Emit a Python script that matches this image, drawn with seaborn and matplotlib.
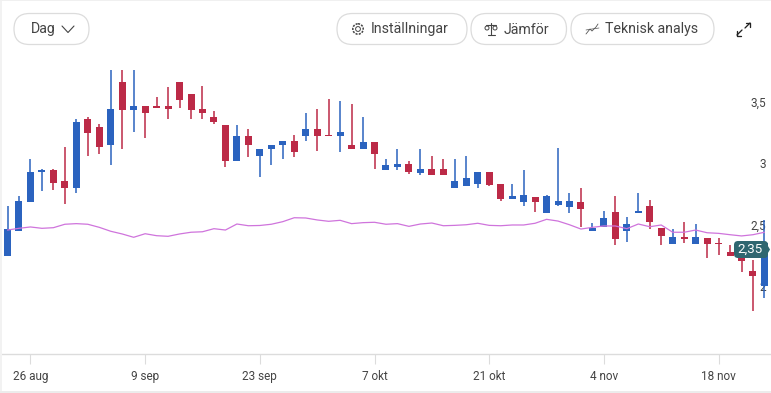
import matplotlib
matplotlib.use("Agg")
import matplotlib.pyplot as plt
from matplotlib.patches import FancyBboxPatch, Circle, Rectangle
import numpy as np
import pandas as pd
import seaborn as sns

highs = [2.65, 2.73, 3.03, 2.95, 2.95, 3.13, 3.36, 3.37, 3.32, 3.76, 3.76, 3.76, 3.46, 3.54, 3.62, 3.66, 3.56,
         3.63, 3.42, 3.31, 3.31, 3.28, 3.11, 3.15, 3.18, 3.23, 3.41, 3.44, 3.52, 3.50, 3.48, 3.37, 3.17, 3.03,
         3.11, 3.02, 3.11, 3.06, 3.03, 3.03, 3.06, 2.93, 2.93, 2.83, 2.83, 2.94, 2.72, 2.74, 3.12, 2.76, 2.80,
         2.51, 2.61, 2.73, 2.56, 2.76, 2.70, 2.47, 2.46, 2.52, 2.50, 2.39, 2.39, 2.33, 2.24, 2.21, 2.54]
lows = [2.24, 2.45, 2.68, 2.77, 2.78, 2.67, 2.76, 3.06, 3.07, 2.98, 3.11, 3.25, 3.20, 3.45, 3.36, 3.45, 3.36,
        3.36, 3.32, 2.97, 3.02, 3.05, 2.89, 2.98, 3.03, 3.05, 3.18, 3.10, 3.22, 3.09, 3.11, 3.11, 2.95, 2.94,
        2.94, 2.91, 2.90, 2.90, 2.90, 2.80, 2.81, 2.80, 2.81, 2.69, 2.71, 2.65, 2.60, 2.59, 2.65, 2.59, 2.48,
        2.45, 2.48, 2.33, 2.36, 2.59, 2.46, 2.33, 2.34, 2.35, 2.34, 2.23, 2.25, 2.24, 2.11, 1.80, 1.90]
opens = [2.24, 2.45, 2.68, 2.93, 2.94, 2.85, 2.80, 3.36, 3.29, 3.15, 3.66, 3.43, 3.46, 3.46, 3.46, 3.66, 3.56,
         3.44, 3.37, 3.31, 3.02, 3.22, 3.06, 3.11, 3.15, 3.18, 3.22, 3.28, 3.23, 3.22, 3.15, 3.11, 3.17, 2.94,
         2.97, 2.99, 2.92, 2.95, 2.95, 2.80, 2.81, 2.83, 2.93, 2.83, 2.71, 2.68, 2.72, 2.59, 2.66, 2.64, 2.68,
         2.45, 2.48, 2.60, 2.45, 2.59, 2.65, 2.47, 2.34, 2.40, 2.34, 2.39, 2.35, 2.28, 2.24, 2.12, 2.00]
closes = [2.46, 2.69, 2.93, 2.94, 2.84, 2.80, 3.33, 3.24, 3.13, 3.44, 3.43, 3.46, 3.41, 3.45, 3.44, 3.51, 3.43,
          3.41, 3.33, 3.02, 3.22, 3.15, 3.11, 3.15, 3.18, 3.09, 3.28, 3.22, 3.22, 3.25, 3.11, 3.17, 3.07, 2.98,
          2.99, 2.93, 2.95, 2.90, 2.90, 2.85, 2.88, 2.93, 2.82, 2.71, 2.73, 2.74, 2.68, 2.73, 2.69, 2.69, 2.63,
          2.47, 2.55, 2.38, 2.50, 2.61, 2.52, 2.41, 2.40, 2.38, 2.40, 2.34, 2.34, 2.24, 2.20, 2.08, 2.35]
avg_line = [2.455, 2.469, 2.480, 2.469, 2.474, 2.502, 2.507, 2.502, 2.477, 2.445, 2.423, 2.396, 2.425, 2.409,
            2.404, 2.423, 2.437, 2.441, 2.466, 2.455, 2.504, 2.490, 2.492, 2.502, 2.523, 2.555, 2.553, 2.537,
            2.526, 2.534, 2.507, 2.515, 2.518, 2.502, 2.507, 2.485, 2.504, 2.512, 2.490, 2.493, 2.498, 2.510,
            2.493, 2.490, 2.496, 2.496, 2.510, 2.542, 2.528, 2.498, 2.463, 2.477, 2.488, 2.488, 2.466, 2.504,
            2.482, 2.496, 2.437, 2.437, 2.455, 2.433, 2.428, 2.417, 2.407, 2.417, 2.437]

date_ticks = [2, 12, 22, 32, 42, 52, 62]
date_labels = ["26 aug", "9 sep", "23 sep", "7 okt", "21 okt", "4 nov", "18 nov"]
price_ticks = [2, 2.5, 3, 3.5]
price_labels = ["2", "2,5", "3", "3,5"]
last_label = "2,35"

BLUE = "#2b63bf"
RED = "#bc2a47"
PURPLE = "#cf74dc"
TEXT = "#444444"
BORDER = "#dcdcdc"

sns.set_theme(style="white")
plt.rcParams['font.family'] = ['Roboto', 'DejaVu Sans']

W, H = 771, 393
fig = plt.figure(figsize=(W / 100, H / 100), dpi=100, facecolor="white")

# main chart area, y 55..354 px
ax = fig.add_axes([2 / W, 1 - 354 / H, (W - 2) / W, (354 - 55) / H])

df = pd.DataFrame({"i": range(len(opens)), "open": opens, "close": closes,
                   "high": highs, "low": lows, "avg": avg_line})
df["color"] = np.where(df["close"] >= df["open"], BLUE, RED)
df["bottom"] = df[["open", "close"]].min(axis=1)
df["height"] = (df["close"] - df["open"]).abs()

ax.vlines(df["i"], df["low"], df["high"], colors=df["color"], linewidth=1.1, zorder=2)
ax.bar(df["i"], df["height"], bottom=df["bottom"], width=0.61, color=df["color"], linewidth=0, zorder=3)
sns.lineplot(data=df, x="i", y="avg", ax=ax, color=PURPLE, linewidth=0.9, zorder=4)

ax.set_xlim(-0.48, 66.57)
ax.set_ylim(2 - 68 / 123, 2 + 231 / 123)
ax.set_xlabel("")
ax.set_ylabel("")
ax.patch.set_alpha(0)
for s in ["top", "left", "right"]:
    ax.spines[s].set_visible(False)
ax.spines["bottom"].set_color(BORDER)
ax.spines["bottom"].set_linewidth(1.0)

ax.set_xticks(date_ticks)
ax.set_xticklabels(date_labels, fontsize=8.5, color=TEXT)
ax.tick_params(axis="x", bottom=True, length=7.2, width=0.8, color=BORDER, pad=4.5)
ax.yaxis.tick_right()
ax.set_yticks(price_ticks)
ax.set_yticklabels(price_labels, fontsize=8.5, color=TEXT, ha="right")
ax.tick_params(axis="y", length=0, pad=-3.5)

# toolbar, price tag and page edges in pixel coordinates
ov = fig.add_axes([0, 0, 1, 1], zorder=10)
ov.set_xlim(0, W)
ov.set_ylim(H, 0)
ov.axis("off")

ov.add_patch(Rectangle((0, 0), 2, H, color="#f2f2f2", lw=0))
ov.add_patch(Rectangle((0, 0), W, 1, color="#f0f0f0", lw=0))
ov.add_patch(Rectangle((0, 391), W, 2, color="#ececec", lw=0))

buttons = [(14, 89), (337, 467), (471, 566.5), (571, 714)]
for x0, x1 in buttons:
    ov.add_patch(FancyBboxPatch((x0, 13.5), x1 - x0, 31, boxstyle="round,pad=0,rounding_size=15.5",
                                fc="white", ec=BORDER, lw=0.9))

btn_font = dict(fontsize=10.2, color=TEXT, va="center", ha="left")
ov.text(31, 29.5, "Dag", **btn_font)
ov.text(371, 29.5, "Inställningar", **btn_font)
ov.text(504, 29.5, "Jämför", **btn_font)
ov.text(605, 29.5, "Teknisk analys", **btn_font)

icon = dict(color="#444444", lw=0.8, solid_capstyle="round")
# chevron
ov.plot([62, 68, 74], [26, 32.5, 26], **icon)
# gear
ov.add_patch(Circle((358, 29), 2.4, fc="none", ec="#444444", lw=0.7))
ov.add_patch(Circle((358, 29), 5.2, fc="none", ec="#444444", lw=1.1, ls=(0, (1.4, 0.8))))
# scales
ov.plot([491, 491], [23, 35], **icon)
ov.plot([487.5, 494.5], [35, 35], **icon)
ov.plot([486, 496], [24.5, 24.5], **icon)
ov.add_patch(Circle((487, 28), 2, fc="none", ec="#444444", lw=0.7))
ov.add_patch(Circle((495, 28), 2, fc="none", ec="#444444", lw=0.7))
# trend lines
ov.plot([586, 590, 592, 596, 598], [34, 29, 31, 27, 24], color="#555555", lw=0.6)
ov.plot([586, 592, 599], [30, 29, 28], color="#555555", lw=0.5)
# expand arrows
exp = dict(color="#222222", lw=0.95, solid_capstyle="round")
ov.plot([737, 742], [35, 30], **exp)
ov.plot([737, 737, 741], [31, 35.5, 35.5], **exp)
ov.plot([745, 750], [28, 23], **exp)
ov.plot([746, 750, 750], [23, 23, 27], **exp)

# last price tag
ov.fill([760, 765, 770, 765, 760], [241, 241, 249.5, 258, 258], fc="#2f6670", ec="none")
ov.add_patch(FancyBboxPatch((738, 245), 26, 9, boxstyle="round,pad=4", fc="#2f6670", ec="none"))
ov.text(749.5, 249.5, last_label, fontsize=9.6, color="white", va="center", ha="center")

fig.savefig("out.png", dpi=100)
